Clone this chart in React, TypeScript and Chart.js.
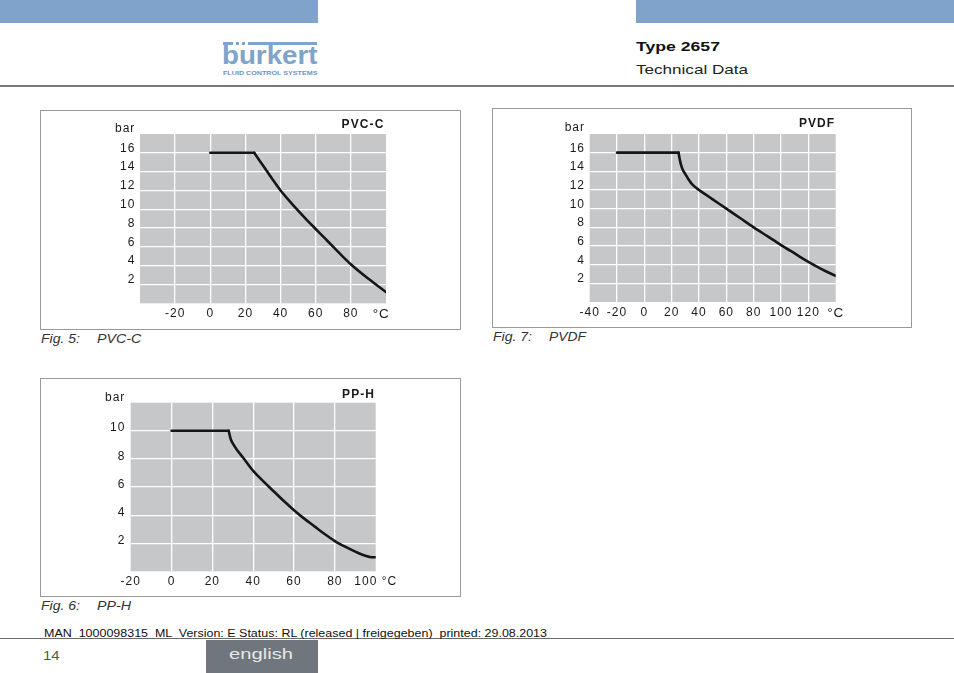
import React, { useEffect, useLayoutEffect, useRef } from 'react';
import { Chart, registerables } from 'chart.js';

Chart.register(...registerables);

const FONT = '"Liberation Sans", Arial, Helvetica, sans-serif';

// ---------- DATA ----------
// Fig. 5: PVC-C
const pvcTemps = [0, 25, 30, 35, 40, 45, 50, 55, 60, 65, 70, 75, 80, 85, 90, 95, 100];
const pvcBar = [16, 16, 14.65, 13.3, 12.0, 10.9, 9.85, 8.85, 7.9, 6.95, 6.0, 5.05, 4.15, 3.35, 2.6, 1.9, 1.2];
const pvcXTicks = [-40, -20, 0, 20, 40, 60, 80, 100];
const pvcXLabels = ['', '-20', '0', '20', '40', '60', '80', '°C\u00a0\u00a0'];
const pvcYTicks = [0, 2, 4, 6, 8, 10, 12, 14, 16, 18];
const pvcYLabels = ['', '2', '4', '6', '8', '10', '12', '14', '16', ''];

// Fig. 7: PVDF
const pvdfTemps = [-20, 25, 26, 27, 28, 30, 32, 35, 40, 45, 50, 60, 70, 80, 90, 100, 110, 120, 130, 140];
const pvdfBar = [16, 16, 15.2, 14.6, 14.2, 13.7, 13.2, 12.6, 12.0, 11.5, 11.0, 10.0, 9.0, 8.0, 7.05, 6.1, 5.2, 4.3, 3.5, 2.8];
const pvdfXTicks = [-40, -20, 0, 20, 40, 60, 80, 100, 120, 140];
const pvdfXLabels = ['-40', '-20', '0', '20', '40', '60', '80', '100', '120', '°C'];
const pvdfYTicks = [0, 2, 4, 6, 8, 10, 12, 14, 16, 18];
const pvdfYLabels = ['', '2', '4', '6', '8', '10', '12', '14', '16', ''];

// Fig. 6: PP-H
const ppTemps = [0, 28, 29, 30, 32, 35, 40, 45, 50, 55, 60, 65, 70, 75, 80, 85, 90, 95, 98, 100];
const ppBar = [10, 10, 9.4, 9.1, 8.65, 8.1, 7.15, 6.4, 5.7, 5.0, 4.35, 3.75, 3.2, 2.65, 2.15, 1.75, 1.4, 1.1, 1.0, 1.0];
const ppXTicks = [-20, 0, 20, 40, 60, 80, 100];
const ppXLabels = ['-20', '0', '20', '40', '60', '80', '100 °C'];
const ppYTicks = [0, 2, 4, 6, 8, 10, 12];
const ppYLabels = ['', '2', '4', '6', '8', '10', ''];

// index of the point where the flat limit ends and the curve begins
const KNEE = 1;

// ---------- STYLE ----------
const PLOT_BG = '#c6c7c9';
const GRID = '#ffffff';
const LINE = '#161616';
const TXT = '#1a1a1a';
const BLUE = '#7fa3ca';

type Spec = {
  title: string;
  temps: number[];
  bars: number[];
  xTicks: number[];
  xLabels: string[];
  yTicks: number[];
  yLabels: string[];
  box: { left: number; top: number; width: number; height: number };
  pad: { left: number; right: number; top: number; bottom: number };
  yW: number;
  xH: number;
  yPad: number;
  xPad: number;
  yLabelOffset: number;
  barDy: number;
  titleDx: number;
  titleDy: number;
  bigLast: boolean;
};

const specs: Spec[] = [
  {
    title: 'PVC-C', temps: pvcTemps, bars: pvcBar,
    xTicks: pvcXTicks, xLabels: pvcXLabels, yTicks: pvcYTicks, yLabels: pvcYLabels,
    box: { left: 40, top: 110, width: 421, height: 220 },
    pad: { left: 60, right: 75, top: 24, bottom: 4.7 },
    yW: 40, xH: 22, yPad: 4.7, xPad: 2.7, yLabelOffset: -4.5, barDy: 1.8, titleDx: 2.7, titleDy: 5.7, bigLast: true,
  },
  {
    title: 'PVDF', temps: pvdfTemps, bars: pvdfBar,
    xTicks: pvdfXTicks, xLabels: pvdfXLabels, yTicks: pvdfYTicks, yLabels: pvdfYLabels,
    box: { left: 492, top: 108, width: 420, height: 220 },
    pad: { left: 57.7, right: 76.3, top: 26, bottom: 4 },
    yW: 40, xH: 22, yPad: 4.7, xPad: 3.2, yLabelOffset: -4.4, barDy: 3.3, titleDx: 1.5, titleDy: 7, bigLast: true,
  },
  {
    title: 'PP-H', temps: ppTemps, bars: ppBar,
    xTicks: ppXTicks, xLabels: ppXLabels, yTicks: ppYTicks, yLabels: ppYLabels,
    box: { left: 40, top: 378, width: 421, height: 219 },
    pad: { left: 50.7, right: 85.3, top: 24.7, bottom: 4.7 },
    yW: 40, xH: 21, yPad: 5.4, xPad: 2.7, yLabelOffset: -2.7, barDy: 2, titleDx: 1.7, titleDy: 5, bigLast: false,
  },
];

function decorPlugin(s: Spec) {
  return {
    id: 'decor',
    beforeDraw(chart: any) {
      const { ctx, chartArea: a } = chart;
      ctx.save();
      ctx.fillStyle = PLOT_BG;
      ctx.fillRect(a.left, a.top, a.right - a.left, a.bottom - a.top);
      ctx.restore();
      ctx.letterSpacing = '1px';
    },
    afterDraw(chart: any) {
      const { ctx, chartArea: a } = chart;
      ctx.save();
      ctx.fillStyle = TXT;
      ctx.textBaseline = 'alphabetic';
      ctx.textAlign = 'right';
      ctx.letterSpacing = '1px';
      ctx.font = `12px ${FONT}`;
      ctx.fillText('bar', a.left - s.yPad, a.top - s.barDy);
      ctx.letterSpacing = '1.1px';
      ctx.font = `bold 12px ${FONT}`;
      ctx.fillText(s.title, a.right - s.titleDx + 1.1, a.top - s.titleDy);
      ctx.restore();
    },
  };
}

function buildConfig(s: Spec): any {
  const xMin = s.xTicks[0];
  const xMax = s.xTicks[s.xTicks.length - 1];
  const yMin = s.yTicks[0];
  const yMax = s.yTicks[s.yTicks.length - 1];
  const pts = s.temps.map((t, i) => ({ x: t, y: s.bars[i] }));
  const gridColor = (lo: number, hi: number) => (c: any) =>
    c.tick && (c.tick.value === lo || c.tick.value === hi) ? 'rgba(0,0,0,0)' : GRID;
  const lineStyle = {
    borderColor: LINE,
    borderWidth: 2.6,
    pointRadius: 0,
    fill: false,
    borderJoinStyle: 'round',
    borderCapStyle: 'round',
  };
  const last = s.xTicks.length - 1;
  return {
    type: 'line',
    data: {
      datasets: [
        { ...lineStyle, data: pts.slice(0, KNEE + 1), tension: 0 },
        { ...lineStyle, data: pts.slice(KNEE), cubicInterpolationMode: 'monotone' },
      ],
    },
    options: {
      animation: false,
      responsive: false,
      events: [],
      layout: { padding: s.pad },
      plugins: { legend: { display: false }, tooltip: { enabled: false }, title: { display: false } },
      scales: {
        x: {
          type: 'linear',
          min: xMin,
          max: xMax,
          afterBuildTicks: (sc: any) => {
            sc.ticks = s.xTicks.map((v) => ({ value: v }));
          },
          afterFit: (sc: any) => {
            sc.height = s.xH;
          },
          grid: { color: gridColor(xMin, xMax), lineWidth: 1.3, drawTicks: false },
          border: { display: false },
          ticks: {
            autoSkip: false,
            maxRotation: 0,
            minRotation: 0,
            padding: s.xPad,
            color: TXT,
            font: (c: any) => ({ family: FONT, size: s.bigLast && c.index === last ? 13.5 : 12 }),
            callback: (_v: any, i: number) => s.xLabels[i],
          },
        },
        y: {
          type: 'linear',
          min: yMin,
          max: yMax,
          afterBuildTicks: (sc: any) => {
            sc.ticks = s.yTicks.map((v) => ({ value: v }));
          },
          afterFit: (sc: any) => {
            sc.width = s.yW;
          },
          grid: { color: gridColor(yMin, yMax), lineWidth: 1.2, drawTicks: false },
          border: { display: false },
          ticks: {
            autoSkip: false,
            padding: s.yPad,
            labelOffset: s.yLabelOffset,
            color: TXT,
            font: { family: FONT, size: 12 },
            callback: (_v: any, i: number) => s.yLabels[i],
          },
        },
      },
    },
    plugins: [decorPlugin(s)],
  };
}

function ChartPanel({ spec }: { spec: Spec }) {
  const ref = useRef<HTMLCanvasElement>(null);
  useEffect(() => {
    if (!ref.current) return;
    const chart = new Chart(ref.current, buildConfig(spec));
    return () => chart.destroy();
  }, [spec]);
  const b = spec.box;
  return (
    <>
      <div
        style={{
          position: 'absolute', left: b.left, top: b.top, width: b.width, height: b.height,
          border: '1px solid #9a9a9a', boxSizing: 'border-box',
        }}
      />
      <canvas
        ref={ref}
        width={b.width}
        height={b.height}
        style={{ position: 'absolute', left: b.left, top: b.top, width: b.width, height: b.height }}
      />
    </>
  );
}

type TxtProps = {
  x: number; base: number; size: number; text: string; width?: number;
  weight?: number; italic?: boolean; color?: string;
};

function Txt({ x, base, size, text, width, weight = 400, italic = false, color = '#222' }: TxtProps) {
  const ref = useRef<HTMLSpanElement>(null);
  useLayoutEffect(() => {
    const el = ref.current;
    if (!el) return;
    el.style.transform = 'none';
    const w = el.getBoundingClientRect().width;
    if (width && w > 0) el.style.transform = `scaleX(${width / w})`;
  }, [text, width]);
  return (
    <span
      ref={ref}
      style={{
        position: 'absolute', left: x, top: base - 0.8465 * size, display: 'block',
        fontSize: size, lineHeight: `${size}px`, fontFamily: FONT, fontWeight: weight,
        fontStyle: italic ? 'italic' : 'normal', color, whiteSpace: 'pre', transformOrigin: '0 0',
      }}
    >
      {text}
    </span>
  );
}

const rect = (left: number, top: number, width: number, height: number, bg: string) => (
  <div style={{ position: 'absolute', left, top, width, height, background: bg }} />
);

export default function App() {
  return (
    <div
      style={{
        position: 'absolute', left: 0, top: 0, width: 954, height: 673,
        background: '#ffffff', overflow: 'hidden',
      }}
    >
      {/* header */}
      {rect(0, 0, 318, 23, BLUE)}
      {rect(636, 0, 318, 23, BLUE)}
      {rect(0, 85, 954, 2, '#737a82')}
      {rect(222.7, 41.8, 10.6, 3.3, BLUE)}
      {rect(236, 41.8, 3.3, 3.3, BLUE)}
      {rect(241.7, 41.8, 3.3, 3.3, BLUE)}
      {rect(247.7, 41.8, 69.8, 3.3, BLUE)}
      <Txt x={222.2} base={65} size={25.5} text="burkert" width={95.5} weight={700} color={BLUE} />
      <Txt x={222.7} base={75.3} size={5} text="FLUID CONTROL SYSTEMS" width={94.5} weight={700} color="#6f93bd" />
      <Txt x={636} base={50.7} size={12} text="Type 2657" width={84} weight={700} color="#111" />
      <Txt x={636} base={74.3} size={13} text="Technical Data" width={112} color="#222" />

      {specs.map((s) => (
        <ChartPanel key={s.title} spec={s} />
      ))}

      {/* captions */}
      <Txt x={41} base={342.8} size={12} text="Fig. 5:" width={39} italic color="#333" />
      <Txt x={96.7} base={342.8} size={12} text="PVC-C" width={44.3} italic color="#333" />
      <Txt x={493} base={341} size={12} text="Fig. 7:" width={39} italic color="#333" />
      <Txt x={548.7} base={341} size={12} text="PVDF" width={37} italic color="#333" />
      <Txt x={41} base={610.5} size={12} text="Fig. 6:" width={39} italic color="#333" />
      <Txt x={96.7} base={610.5} size={12} text="PP-H" width={34} italic color="#333" />

      {/* footer */}
      {rect(0, 638, 954, 1, '#6a6a6a')}
      {rect(206, 640, 112, 33, '#6f767d')}
      <Txt
        x={44}
        base={637.3}
        size={10}
        text="MAN  1000098315  ML  Version: E Status: RL (released | freigegeben)  printed: 29.08.2013"
        width={503}
        color="#111"
      />
      <Txt x={42.7} base={660} size={12} text="14" width={16.6} color="#555" />
      <Txt x={229} base={659.3} size={14} text="english" width={64} color="#e8e8e8" />
    </div>
  );
}
